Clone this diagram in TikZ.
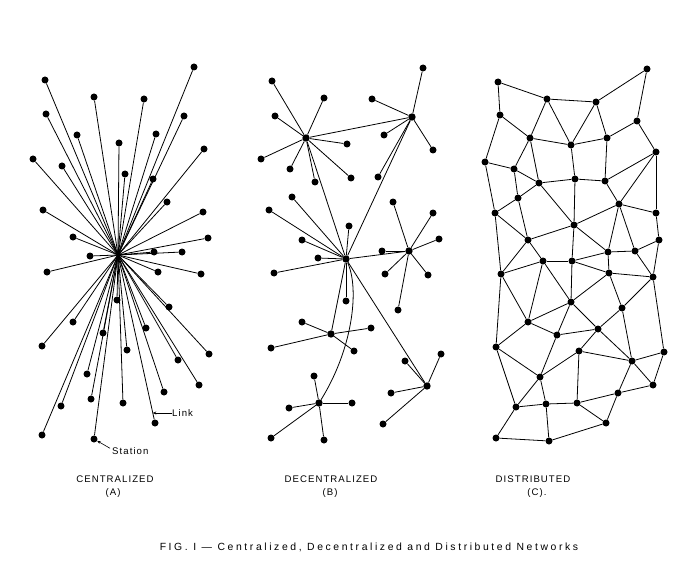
\documentclass[tikz,border=0pt]{standalone}
\usepackage{fontspec}
\newfontfamily\labfont[LetterSpace=11]{Liberation Sans}
\newfontfamily\capfont[LetterSpace=25]{Liberation Sans}
\usetikzlibrary{arrows.meta}
\begin{document}
\begin{tikzpicture}[x=1pt,y=-1pt,
  dot/.style={circle,fill=black,inner sep=0pt,minimum size=7pt},
  hub/.style={circle,fill=black,inner sep=0pt,minimum size=7.4pt},
  lnk/.style={line width=0.8pt,black},
  lab/.style={font=\labfont\fontsize{9.6}{11}\selectfont,inner sep=0pt},
  captext/.style={font=\capfont\fontsize{10.4}{12}\selectfont,inner sep=0pt},
  pointer/.style={line width=0.6pt,-{Stealth[length=3.5pt,width=3pt]}}]
\useasboundingbox (0,0) rectangle (683,575);
\fill[white] (0,0) rectangle (683,575);

% ---------------- (A) centralized ----------------
\coordinate (hA) at (118,255);
\foreach \n/\x/\y in {a1/194/67,a2/45/80,a3/94/97,a4/144/99,a5/46/114,a6/184/116,
  a7/77/135,a8/156/134,a9/119/143,a10/204/149,a11/33/159,a12/62/166,a13/125/174,
  a14/153/179,a15/167/202,a16/43/210,a17/203/212,a18/73/237,a19/208/238,a20/90/256,
  a21/154/252,a22/182/252,a23/47/272,a24/158/272,a25/201/274,a26/117/300,a27/169/307,
  a28/73/322,a29/146/328,a30/103/333,a31/42/346,a32/127/350,a33/178/360,a34/209/354,
  a35/87/374,a36/199/385,a37/91/399,a38/123/403,a39/164/392,a40/61/406,a41/155/423,
  a42/42/435,a43/94/439}
  {\node[dot] (\n) at (\x,\y) {};
   \draw[lnk] (hA) -- (\n);}

\node[lab,anchor=west] (linklab) at (172,413) {Link};
\coordinate (linktip) at (152.8,413);
\draw[pointer] (linklab.west) -- (linktip);
\node[lab,anchor=west] (stlab) at (112,451) {Station};
\draw[pointer] ([xshift=-2pt,yshift=-1pt]stlab.north west) -- (a43);

% ---------------- (B) decentralized ----------------
\foreach \n/\x/\y in {H0/346/259,H1/306/138,H2/412/117,H3/409/251,H4/331/334,H5/427/386,H6/319/403}
  {\node[hub] (\n) at (\x,\y) {};}
\foreach \h/\n/\x/\y in {H1/b1/272/81,H1/b2/324/98,H1/b3/275/116,H1/b4/347/144,
  H1/b5/261/159,H1/b6/290/169,H1/b7/315/182,H1/b8/351/178,
  H2/b9/423/68,H2/b10/372/99,H2/b11/384/135,H2/b12/433/150,H2/b13/378/177,
  H0/b14/292/197,H0/b15/269/210,H0/b16/349/226,H0/b17/302/240,H0/b18/318/258,
  H0/b19/274/273,H0/b20/346/301,
  H3/b21/393/202,H3/b22/433/213,H3/b23/439/239,H3/b24/382/251,H3/b25/385/274,
  H3/b26/428/275,H3/b27/398/310,
  H4/b28/302/322,H4/b29/371/328,H4/b30/271/348,H4/b31/354/351,
  H5/b32/405/361,H5/b33/441/354,H5/b34/391/393,H5/b35/383/424,
  H6/b36/314/376,H6/b37/289/408,H6/b38/352/403,H6/b39/271/438,H6/b40/324/440}
  {\node[dot] (\n) at (\x,\y) {};
   \draw[lnk] (\h) -- (\n);}
\draw[lnk] (H1) -- (H2);
\draw[lnk] (H1) -- (H0);
\draw[lnk] (H2) -- (H0);
\draw[lnk] (H0) -- (H3);
\draw[lnk] (H0) -- (H4);
\draw[lnk] (H0) -- (H5);
\draw[lnk] (H6) .. controls (352,350) and (360,290) .. (H0);

% ---------------- (C) distributed ----------------
\foreach \n/\x/\y in {c1/647/69,c2/498/82,c3/547/99,c4/596/102,c5/500/115,c6/637/121,
  c7/530/138,c8/607/138,c9/571/145,c10/656/152,c11/485/162,c12/514/169,c13/539/183,
  c14/575/179,c15/605/181,c16/518/198,c17/619/204,c18/495/213,c19/656/213,c20/574/225,
  c21/528/240,c22/659/240,c23/608/252,c24/635/251,c25/543/261,c26/572/261,c27/501/274,
  c28/609/273,c29/653/277,c30/571/302,c31/622/308,c32/528/322,c33/598/329,c34/557/335,
  c35/496/347,c36/579/351,c37/664/352,c38/632/361,c39/540/377,c40/653/385,c41/618/393,
  c42/516/407,c43/546/404,c44/577/403,c45/606/423,c46/496/438,c47/549/441}
  {\node[dot] (\n) at (\x,\y) {};}
\foreach \u/\v in {c1/c4,c1/c6,c2/c3,c2/c5,c3/c4,c3/c7,c3/c9,c4/c9,c4/c8,c5/c7,c5/c11,
  c6/c8,c6/c10,c7/c9,c7/c12,c7/c13,c8/c9,c8/c15,c9/c14,c10/c15,c10/c17,c10/c19,
  c11/c12,c11/c18,c12/c13,c12/c16,c13/c14,c13/c16,c13/c20,c14/c15,c14/c20,c15/c17,
  c16/c18,c16/c21,c17/c19,c17/c20,c17/c23,c17/c24,c18/c21,c18/c27,c19/c22,c20/c21,
  c20/c23,c20/c26,c21/c25,c21/c27,c22/c24,c22/c29,c23/c24,c23/c26,c23/c28,c24/c29,
  c25/c26,c25/c27,c25/c30,c25/c32,c26/c28,c26/c30,c27/c32,c27/c35,c28/c29,c28/c30,
  c28/c31,c29/c31,c29/c37,c30/c32,c30/c33,c30/c34,c31/c33,c31/c38,c32/c34,c32/c35,
  c33/c34,c33/c36,c33/c38,c34/c39,c35/c39,c35/c42,c36/c38,c36/c39,c36/c44,c37/c38,
  c37/c40,c38/c40,c38/c41,c41/c40,c41/c44,c41/c45,c39/c42,c39/c43,c42/c43,c42/c46,
  c43/c44,c43/c47,c44/c45,c45/c47,c46/c47}
  {\draw[lnk] (\u) -- (\v);}

% ---------------- labels ----------------
\node[lab] (tA) at (115,479) {CENTRALIZED};
\node[lab] (sA) at (113,493) {(A)};
\node[lab] (tB) at (331,479) {DECENTRALIZED};
\node[lab] (sB) at (330,493) {(B)};
\node[lab] (tC) at (533,479) {DISTRIBUTED};
\node[lab] (sC) at (537,493) {(C).};
\node[captext] (fig) at (369,547) {FIG. I — Centralized, Decentralized and Distributed Networks};
\end{tikzpicture}
\end{document}
